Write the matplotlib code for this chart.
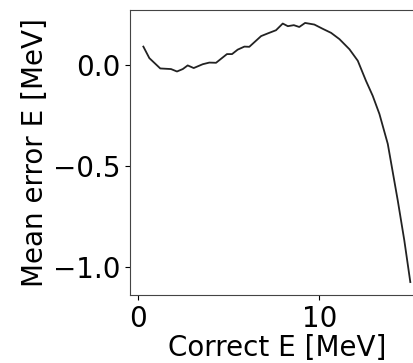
import matplotlib
matplotlib.use('Agg')
import matplotlib.pyplot as plt
import numpy as np

# mean reconstruction error vs. true energy
energy = [0.31, 0.64, 1.24, 1.83, 2.16, 2.48, 2.75, 3.08, 3.58, 3.94, 4.31,
          4.91, 5.19, 5.50, 5.87, 6.14, 6.79, 7.15, 7.61, 7.98, 8.26, 8.59,
          8.89, 9.21, 9.72, 10.18, 10.64, 11.10, 11.65, 12.11, 12.56, 12.93,
          13.30, 13.76, 14.31, 14.67, 15.00]
mean_err = [0.090, 0.033, -0.018, -0.021, -0.033, -0.021, -0.003, -0.016,
            0.003, 0.011, 0.010, 0.053, 0.053, 0.075, 0.090, 0.089, 0.142,
            0.155, 0.171, 0.204, 0.191, 0.196, 0.187, 0.207, 0.199, 0.178,
            0.158, 0.127, 0.077, 0.020, -0.079, -0.153, -0.243, -0.391,
            -0.671, -0.868, -1.074]

fig = plt.figure(figsize=(4.13, 3.63), dpi=100)
ax = fig.add_axes([0.3148, 0.1873, 0.711, 0.7852])
ax.plot(energy, mean_err, color='#222222', linewidth=1.3)

ax.set_xticks([0, 10])
ax.set_yticks([0.0, -0.5, -1.0])
ax.tick_params(labelsize=20)
for sp in ax.spines.values():
    sp.set_color('#444444')
ax.set_xlabel('Correct E [MeV]', fontsize=20, labelpad=1)
ax.set_ylabel('Mean error E [MeV]', fontsize=20, labelpad=3)

fig.savefig('out.png', dpi=100)
